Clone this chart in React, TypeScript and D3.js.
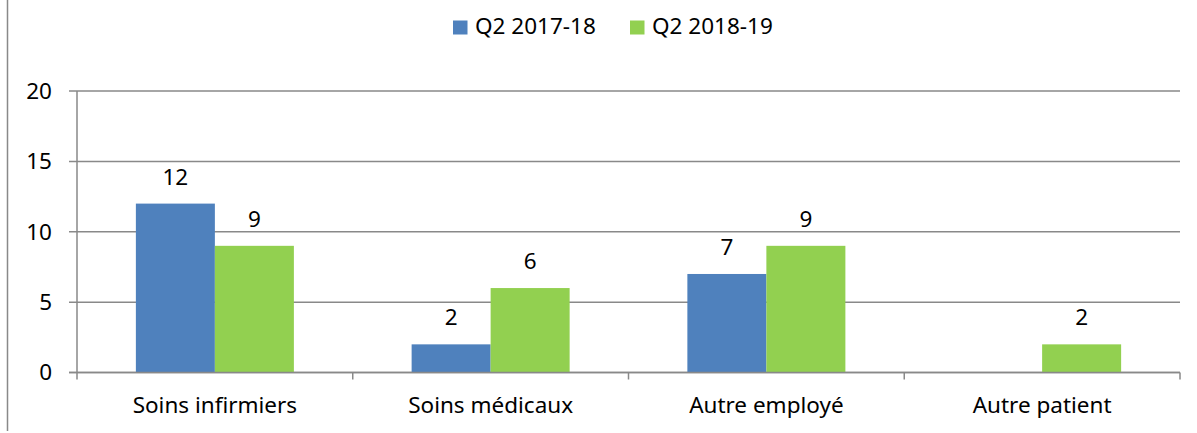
import React from "react";
import * as d3 from "d3";

const categories = ["Soins infirmiers", "Soins médicaux", "Autre employé", "Autre patient"];
const seriesNames = ["Q2 2017-18", "Q2 2018-19"];
const seriesA: (number | null)[] = [12, 2, 7, null];
const seriesB: (number | null)[] = [9, 6, 9, 2];
const yTicks = [0, 5, 10, 15, 20];
const colors = ["#4F81BD", "#92D050"];

const W = 1197;
const H = 433;
const FONT = "'Noto Sans', sans-serif";

export default function App() {
  const left = 77;
  const right = 1180;
  const top = 91;
  const bottom = 372.5;

  const y = d3.scaleLinear().domain([0, 20]).range([bottom, top]);
  const x0 = d3.scaleBand<string>().domain(categories).range([left, right]).padding(0);
  const step = x0.bandwidth();
  const outer = step * 0.2135;
  const x1 = d3
    .scaleBand<string>()
    .domain(seriesNames)
    .range([outer, step - outer])
    .padding(0);

  const series = [seriesA, seriesB];
  const grey = "#898989";
  const fs = 22.5;

  return (
    <svg
      width={W}
      height={H}
      style={{ position: "absolute", left: 0, top: 0, background: "#fff" }}
      fontFamily={FONT}
    >
      <rect x={0} y={0} width={W} height={H} fill="#fff" />
      {/* left border */}
      <line x1={7.5} x2={7.5} y1={0} y2={431} stroke={grey} strokeWidth={1.5} />

      {/* gridlines */}
      {yTicks.map((t) => (
        <g key={t}>
          <line x1={left - 8} x2={right} y1={y(t)} y2={y(t)} stroke={grey} strokeWidth={1.5} />
          <text
            x={52}
            y={y(t)}
            dy="0.35em"
            textAnchor="end"
            fontSize={fs}
            fill="#000"
          >
            {t}
          </text>
        </g>
      ))}
      {/* y axis */}
      <line x1={left} x2={left} y1={top} y2={bottom + 7} stroke={grey} strokeWidth={1.5} />
      {/* category ticks */}
      {categories.map((c, i) => (
        <line
          key={c}
          x1={(x0(c) as number) + step}
          x2={(x0(c) as number) + step}
          y1={bottom}
          y2={bottom + 7}
          stroke={grey}
          strokeWidth={1.5}
        />
      ))}

      {/* bars */}
      {series.map((vals, si) =>
        vals.map((v, ci) => {
          if (v === null) return null;
          const c = categories[ci];
          const bx = (x0(c) as number) + (x1(seriesNames[si]) as number);
          const bw = x1.bandwidth();
          return (
            <g key={`${si}-${ci}`}>
              <rect x={bx} y={y(v)} width={bw} height={bottom - y(v)} fill={colors[si]} />
              <text
                x={bx + bw / 2}
                y={y(v) - 19}
                textAnchor="middle"
                fontSize={fs}
                fill="#000"
              >
                {v}
              </text>
            </g>
          );
        })
      )}
      {/* redraw baseline over bars */}
      <line x1={left - 8} x2={right} y1={bottom} y2={bottom} stroke={grey} strokeWidth={1.5} />

      {/* category labels */}
      {categories.map((c) => (
        <text
          key={c}
          x={(x0(c) as number) + step / 2}
          y={413}
          textAnchor="middle"
          fontSize={fs}
          fill="#000"
        >
          {c}
        </text>
      ))}

      {/* legend */}
      {seriesNames.map((s, i) => {
        const lx = [453, 630][i];
        return (
          <g key={s}>
            <rect x={lx} y={20.5} width={14.5} height={14} fill={colors[i]} />
            <text x={lx + 22} y={34} fontSize={fs} fill="#000">
              {s}
            </text>
          </g>
        );
      })}
    </svg>
  );
}
